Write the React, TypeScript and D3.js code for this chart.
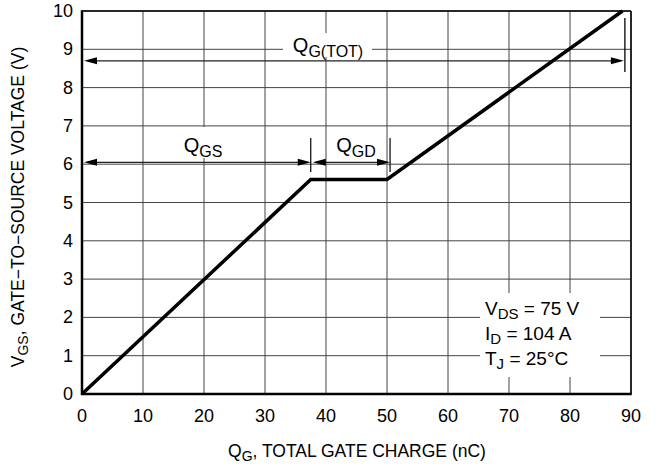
import React from "react";
import * as d3 from "d3";

const curveQ = [0, 37.5, 50, 88.6];
const curveV = [0, 5.6, 5.6, 10];
const xTicks = [0, 10, 20, 30, 40, 50, 60, 70, 80, 90];
const yTicks = [0, 1, 2, 3, 4, 5, 6, 7, 8, 9, 10];
const qgsEnd = 37.5;
const qgdEnd = 50.5;
const qgTot = 89;
const conditions = ["V|DS| = 75 V", "I|D| = 104 A", "T|J| = 25°C"];

const W = 657, H = 470;
const L = 82, R = 631, T = 11, B = 394;
const FONT = "'Liberation Sans', Arial, Helvetica, sans-serif";

function Arrow({ x1, x2, y }: { x1: number; x2: number; y: number }) {
  const len = 13, hw = 3.5;
  return (
    <g>
      <line x1={x1 + 4} x2={x2 - 4} y1={y} y2={y} stroke="#222" strokeWidth={1.2} />
      <path d={`M${x1},${y} L${x1 + len},${y - hw} L${x1 + len},${y + hw} Z`} fill="#000" />
      <path d={`M${x2},${y} L${x2 - len},${y - hw} L${x2 - len},${y + hw} Z`} fill="#000" />
    </g>
  );
}

function SubText({ x, y, main, sub, anchor, size }: any) {
  return (
    <text x={x} y={y} fontSize={size} textAnchor={anchor} fontFamily={FONT} fill="#000">
      {main}
      <tspan fontSize={size * 0.8} dy={5}>{sub}</tspan>
    </text>
  );
}

export default function App() {
  const x = d3.scaleLinear().domain([0, 90]).range([L, R]);
  const y = d3.scaleLinear().domain([0, 10]).range([B, T]);
  const line = d3.line<number>().x((_, i) => x(curveQ[i])).y((_, i) => y(curveV[i]));
  const pathD = line(curveQ) || "";

  const yTot = y(8.7);
  const yGs = y(6.05);

  return (
    <svg width={W} height={H} style={{ position: "absolute", left: 0, top: 0, background: "#fff" }}>
      <rect x={0} y={0} width={W} height={H} fill="#fff" />
      {/* grid */}
      {xTicks.map((t) => (
        <line key={"gx" + t} x1={x(t)} x2={x(t)} y1={T} y2={B} stroke="#444" strokeWidth={1} />
      ))}
      {yTicks.map((t) => (
        <line key={"gy" + t} x1={L} x2={R} y1={y(t)} y2={y(t)} stroke="#444" strokeWidth={1} />
      ))}
      {/* label boxes */}
      <rect x={283} y={33} width={89} height={24} fill="#fff" />
      <rect x={178} y={127} width={52} height={31} fill="#fff" />
      <rect x={328} y={133} width={54} height={25} fill="#fff" />
      <rect x={480} y={293} width={120} height={84} fill="#fff" />

      {/* arrows */}
      <Arrow x1={x(0) + 2} x2={x(qgTot) - 1} y={yTot} />
      <line x1={x(qgTot)} x2={x(qgTot)} y1={18} y2={72} stroke="#000" strokeWidth={1.3} />
      <Arrow x1={x(0) + 2} x2={x(qgsEnd)} y={yGs} />
      <Arrow x1={x(qgsEnd) + 2} x2={x(qgdEnd)} y={yGs} />
      <line x1={x(qgsEnd)} x2={x(qgsEnd)} y1={138} y2={172} stroke="#000" strokeWidth={1.2} />
      <line x1={x(qgdEnd)} x2={x(qgdEnd)} y1={138} y2={172} stroke="#000" strokeWidth={1.2} />

      {/* labels */}
      <SubText x={328} y={52} main="Q" sub="G(TOT)" anchor="middle" size={20} />
      <SubText x={203} y={152} main="Q" sub="GS" anchor="middle" size={20} />
      <SubText x={356} y={152} main="Q" sub="GD" anchor="middle" size={20} />

      {conditions.map((c, i) => {
        const [m, s, r] = c.split("|");
        return (
          <text key={c} x={485} y={315 + i * 25} fontSize={19} fontFamily={FONT}>
            {m}
            <tspan fontSize={15} dy={4}>{s}</tspan>
            <tspan dy={-4}>{r}</tspan>
          </text>
        );
      })}

      {/* curve */}
      <path d={pathD} fill="none" stroke="#000" strokeWidth={3.5} strokeLinejoin="miter" />

      {/* border */}
      <line x1={L} x2={R} y1={T} y2={T} stroke="#000" strokeWidth={1.5} />
      <line x1={R} x2={R} y1={T} y2={B} stroke="#000" strokeWidth={1.5} />
      <line x1={L} x2={L} y1={T - 0.75} y2={B + 1} stroke="#000" strokeWidth={2.5} />
      <line x1={L - 1} x2={R + 0.75} y1={B} y2={B} stroke="#000" strokeWidth={2.5} />

      {/* tick labels */}
      {xTicks.map((t) => (
        <text key={"tx" + t} x={x(t)} y={422} textAnchor="middle" fontSize={18} fontFamily={FONT}>
          {t}
        </text>
      ))}
      {yTicks.map((t) => (
        <text key={"ty" + t} x={73} y={y(t) + 6} textAnchor="end" fontSize={18} fontFamily={FONT}>
          {t}
        </text>
      ))}

      {/* axis titles */}
      <text x={357} y={457} textAnchor="middle" fontSize={17.5} fontFamily={FONT}>
        Q<tspan fontSize={14} dy={4}>G</tspan>
        <tspan dy={-4}>, TOTAL GATE CHARGE (nC)</tspan>
      </text>
      <text
        transform={`translate(24, ${207}) rotate(-90)`}
        textAnchor="middle"
        fontSize={17.5}
        fontFamily={FONT}
      >
        V<tspan fontSize={14} dy={4}>GS</tspan>
        <tspan dy={-4}>, GATE−TO−SOURCE VOLTAGE (V)</tspan>
      </text>
    </svg>
  );
}
